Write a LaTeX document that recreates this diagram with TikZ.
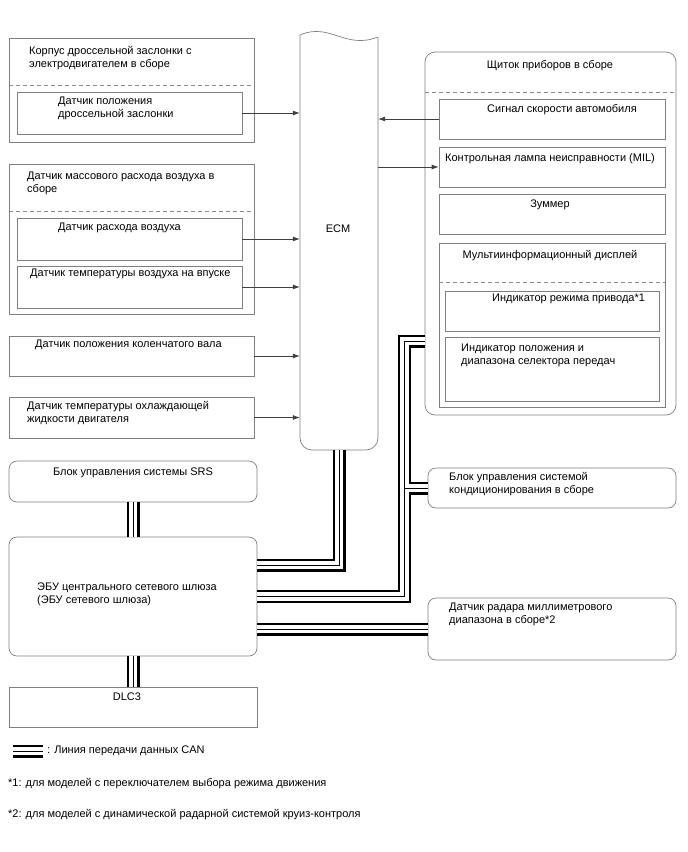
\documentclass[tikz,border=0pt]{standalone}
\usepackage{fontspec}
\setmainfont{Liberation Sans}
\usetikzlibrary{arrows.meta, fit, calc}

\tikzset{
  box/.style={draw=black!50, line width=0.7pt, inner sep=0pt},
  rbox/.style={box, rounded corners=8pt},
  sep/.style={draw=black!45, line width=0.7pt, dash pattern=on 4pt off 3pt},
  sig/.style={draw=black!75, line width=0.7pt, -{Latex[length=7pt,width=5pt]}},
  txt/.style={font=\fontsize{11}{13}\selectfont, inner sep=0pt, align=left},
}

\begin{document}
\begin{tikzpicture}[x=1pt, y=-1pt]
    \useasboundingbox (0,0) rectangle (688,852);

    % --- Corpus of throttle ---
    \node[box, fit={(9,38) (254,142)}] (tb) {};
    \draw[sep] ($(tb.north west)+(0,48)$) -- ($(tb.north east)+(0,48)$);
    \node[txt, anchor=north west] (tbT) at (29,46) {Корпус дроссельной заслонки с\\электродвигателем в сборе};
    \node[box, fit={(17,92) (242,134)}] (tps) {};
    \node[txt, anchor=north west] (tpsT) at (58,97) {Датчик положения\\дроссельной заслонки};

    % --- Mass air flow meter ---
    \node[box, fit={(9,164) (254,314)}] (maf) {};
    \draw[sep] ($(maf.north west)+(0,48)$) -- ($(maf.north east)+(0,48)$);
    \node[txt, anchor=north west] (mafT) at (27,172) {Датчик массового расхода воздуха в\\сборе};
    \node[box, fit={(17,218) (242,260)}] (afs) {};
    \node[txt, anchor=north west] (afsT) at (58,223) {Датчик расхода воздуха};
    \node[box, fit={(17,266) (242,308)}] (iat) {};
    \node[txt, anchor=north west] (iatT) at (30,269) {Датчик температуры воздуха на впуске};

    % --- Other sensors ---
    \node[box, fit={(9,336) (254,376)}] (ckp) {};
    \node[txt, anchor=north west] (ckpT) at (35,340) {Датчик положения коленчатого вала};
    \node[box, fit={(9,397) (254,438)}] (ect) {};
    \node[txt, anchor=north west] (ectT) at (27,401) {Датчик температуры охлаждающей\\жидкости двигателя};

    % --- ECM ---
    \node[inner sep=0pt, fit={(300,36) (378,450)}] (ecm) {};
    \draw[box, rounded corners=12pt] (300,35) -- (300,450) -- (378,450) -- (378,37);
    \draw[box] (300,35) .. controls (330,22) and (345,50) .. (378,37);
    \node[txt] (ecmT) at (338,229) {ECM};

    % --- Instrument panel ---
    \node[box, rounded corners=10pt, fit={(425,52) (676,415)}] (ip) {};
    \draw[sep] ($(ip.north west)+(0,41)$) -- ($(ip.north east)+(0,41)$);
    \node[txt, anchor=north] (ipT) at (550,60) {Щиток приборов в сборе};
    \node[box, fit={(439,99) (665,139)}] (spd) {};
    \node[txt, anchor=north west] (spdT) at (487,104) {Сигнал скорости автомобиля};
    \node[box, fit={(439,147) (665,187)}] (mil) {};
    \node[txt, anchor=north west] (milT) at (445,153) {Контрольная лампа неисправности (MIL)};
    \node[box, fit={(439,194) (665,234)}] (buz) {};
    \node[txt, anchor=north] (buzT) at (550,200) {Зуммер};
    \node[box, fit={(439,243) (665,407)}] (mid) {};
    \draw[sep] ($(mid.north west)+(0,40)$) -- ($(mid.north east)+(0,40)$);
    \node[txt, anchor=north] (midT) at (550,250) {Мультиинформационный дисплей};
    \node[box, fit={(445,291) (659,331)}] (drv) {};
    \node[txt, anchor=north west] (drvT) at (492,294) {Индикатор режима привода*1};
    \node[box, fit={(445,337) (659,401)}] (sel) {};
    \node[txt, anchor=north west] (selT) at (461,344) {Индикатор положения и\\диапазона селектора передач};

    % --- CAN units ---
    \node[rbox, fit={(9,461) (257,502)}] (srs) {};
    \node[txt, anchor=north] (srsT) at (133,468) {Блок управления системы SRS};
    \node[rbox, fit={(9,537) (257,656)}] (gw) {};
    \node[txt, anchor=north west] (gwT) at (37,583) {ЭБУ центрального сетевого шлюза\\(ЭБУ сетевого шлюза)};
    \node[box, fit={(9,687) (257,727)}] (dlc) {};
    \node[txt, anchor=north] (dlcT) at (127,693) {DLC3};
    \node[rbox, fit={(428,468) (676,508)}] (ac) {};
    \node[txt, anchor=north west] (acT) at (449,472) {Блок управления системой\\кондиционирования в сборе};
    \node[rbox, fit={(428,598) (676,660)}] (rad) {};
    \node[txt, anchor=north west] (radT) at (449,603) {Датчик радара миллиметрового\\диапазона в сборе*2};

    % --- Signal wires ---
    \foreach \src in {tps, afs, iat, ckp, ect}
      \draw[sig] (\src.east) -- (\src.east -| ecm.west);
    \draw[sig] (spd.west) -- (spd.west -| ecm.east);
    \draw[sig] (mil.west -| ecm.east) -- (mil.west);

    % --- CAN bus (black, white, black core) ---
    \coordinate (canbus) at ($(gw.east)+(147,0)$);
    \coordinate (canL) at (13,751);
    \coordinate (canR) at (43,751);
    \foreach \w/\col in {13pt/black, 8.5pt/white, 1pt/black} {
      \begin{scope}[line width=\w, draw=\col, line join=miter]
        \draw (srs.south) -- (gw.north);
        \draw (gw.south) -- (dlc.north);
        \draw (ecm.south) |- ($(gw.east)+(0,-31.5)$);
        \draw ($(ip.west)+(0,107.5)$) -| (canbus) -- (gw.east);
        \draw (ac.west) -- (ac.west -| canbus);
        \draw (gw.east |- rad.west) -- (rad.west);
        \draw (canL) -- (canR);
      \end{scope}
    }

    % --- Legend ---
    \node[txt, anchor=north west] (canT) at (47,746) {: Линия передачи данных CAN};
    \node[txt, anchor=north west] (fn1) at (8,778) {*1: для моделей с переключателем выбора режима движения};
    \node[txt, anchor=north west] (fn2) at (8,809) {*2: для моделей с динамической радарной системой круиз-контроля};
\end{tikzpicture}
\end{document}
